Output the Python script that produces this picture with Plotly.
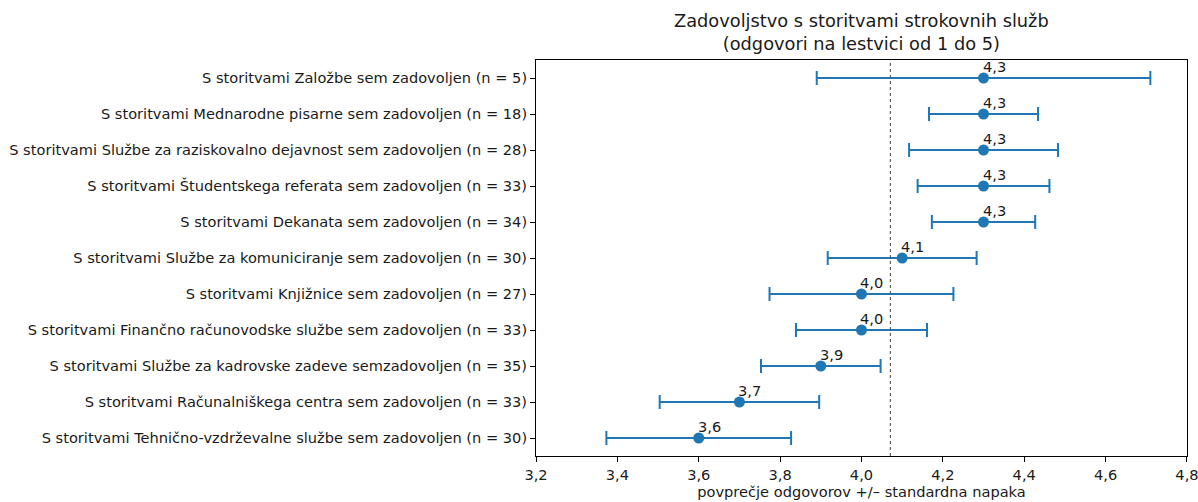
import plotly.graph_objects as go

categories = [
    "S storitvami Založbe sem zadovoljen (n = 5)",
    "S storitvami Mednarodne pisarne sem zadovoljen (n = 18)",
    "S storitvami Službe za raziskovalno dejavnost sem zadovoljen (n = 28)",
    "S storitvami Študentskega referata sem zadovoljen (n = 33)",
    "S storitvami Dekanata sem zadovoljen (n = 34)",
    "S storitvami Službe za komuniciranje sem zadovoljen (n = 30)",
    "S storitvami Knjižnice sem zadovoljen (n = 27)",
    "S storitvami Finančno računovodske službe sem zadovoljen (n = 33)",
    "S storitvami Službe za kadrovske zadeve semzadovoljen (n = 35)",
    "S storitvami Računalniškega centra sem zadovoljen (n = 33)",
    "S storitvami Tehnično-vzdrževalne službe sem zadovoljen (n = 30)",
]
means = [4.3, 4.3, 4.3, 4.3, 4.3, 4.1, 4.0, 4.0, 3.9, 3.7, 3.6]
std_errors = [0.41, 0.134, 0.183, 0.162, 0.127, 0.183, 0.226, 0.161, 0.147, 0.196, 0.227]
reference_line = 4.071
x_ticks = [3.2, 3.4, 3.6, 3.8, 4.0, 4.2, 4.4, 4.6, 4.8]
title_text = "Zadovoljstvo s storitvami strokovnih služb<br>(odgovori na lestvici od 1 do 5)"
x_title = "povprečje odgovorov +/– standardna napaka"

BLUE = "#1f77b4"
FONT = "DejaVu Sans"
TXT = "#1a1a1a"
FS = 14.6

fig = go.Figure()
fig.add_trace(go.Scatter(
    x=means, y=categories, mode="markers",
    marker=dict(color=BLUE, size=11),
    error_x=dict(type="data", array=std_errors, visible=True,
                 color=BLUE, thickness=2, width=7),
    showlegend=False,
))

for c, m in zip(categories, means):
    fig.add_annotation(
        x=m, y=c, text=f"{m:.1f}".replace(".", ","),
        showarrow=False, xanchor="left", yanchor="bottom",
        yshift=1, xshift=-3, font=dict(family=FONT, size=FS, color=TXT),
    )

# title as an annotation for precise multi-line placement
fig.add_annotation(
    x=0.5, y=1, xref="paper", yref="paper", xanchor="center", yanchor="bottom",
    text=title_text, showarrow=False, yshift=4,
    font=dict(family=FONT, size=17.8, color=TXT),
)

fig.add_vline(x=reference_line, line=dict(color="#444444", width=1, dash="dot"))

fig.update_layout(
    width=1198, height=502,
    margin=dict(l=536, r=11, t=60, b=46),
    plot_bgcolor="white", paper_bgcolor="white",
    separators=",.",
    font=dict(family=FONT, size=FS, color=TXT),
    xaxis=dict(
        range=[3.2, 4.8001], tickvals=x_ticks, tickformat=".1f",
        ticklabeloverflow="allow",
        showline=True, linecolor="black", linewidth=1, mirror=True,
        ticks="outside", ticklen=5, tickcolor="black",
        showgrid=False, zeroline=False, automargin=False,
        title=dict(text=x_title, font=dict(family=FONT, size=FS), standoff=2),
    ),
    yaxis=dict(
        type="category", categoryorder="array", categoryarray=categories,
        range=[10.5, -0.5],
        showline=True, linecolor="black", linewidth=1, mirror=True,
        ticks="outside", ticklen=5, tickcolor="black",
        showgrid=False, zeroline=False, automargin=False,
    ),
)

fig.write_html(
    "out.html",
    config={"displayModeBar": False},
    post_script="document.body.style.margin='0';document.body.style.overflow='hidden';",
)
